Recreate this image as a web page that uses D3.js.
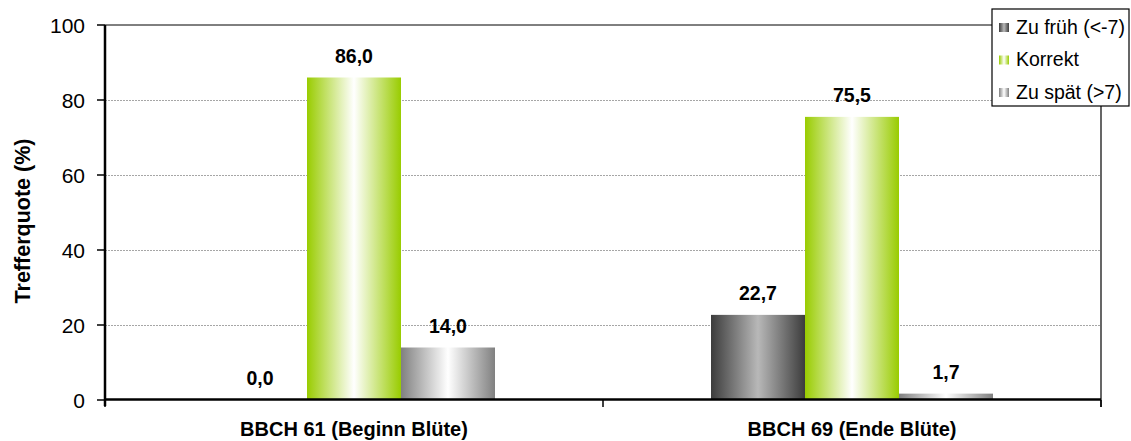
<!DOCTYPE html>
<html>
<head>
<meta charset="utf-8">
<script src="https://cdn.jsdelivr.net/npm/d3@7/dist/d3.min.js"></script>
<style>
  html, body { margin: 0; padding: 0; background: #fff; }
  svg { display: block; font-family: "Liberation Sans", Arial, sans-serif; }
</style>
</head>
<body>
<svg id="chart" width="1131" height="441"></svg>
<script>
// ---- data ----
const categories = ["BBCH 61 (Beginn Blüte)", "BBCH 69 (Ende Blüte)"];
const seriesNames = ["Zu früh (<-7)", "Korrekt", "Zu spät (>7)"];
const zuFrueh = [0.0, 22.7];
const korrekt = [86.0, 75.5];
const zuSpaet = [14.0, 1.7];
const yTicks = [0, 20, 40, 60, 80, 100];
const yTitle = "Trefferquote (%)";

// ---- styles ----
const gradStops = [
  { edge: "#3c3c3c", center: "#b8b8b8" },
  { edge: "#99cc00", center: "#ffffff" },
  { edge: "#808080", center: "#ffffff" }
];

const svg = d3.select("#chart");
const pLeft = 105, pRight = 1101, pTop = 25, pBottom = 400;

const x0 = d3.scaleBand().domain(categories).range([pLeft, pRight]).padding(0);
const x1 = d3.scaleBand().domain(d3.range(seriesNames.length))
  .range([0, x0.bandwidth()]).paddingInner(0).paddingOuter(1.149);
const y = d3.scaleLinear().domain([0, 100]).range([pBottom, pTop]);

const defs = svg.append("defs");
gradStops.forEach((g, i) => {
  const lg = defs.append("linearGradient").attr("id", "g" + i)
    .attr("x1", "0%").attr("x2", "100%").attr("y1", "0%").attr("y2", "0%");
  lg.append("stop").attr("offset", "0%").attr("stop-color", g.edge);
  lg.append("stop").attr("offset", "50%").attr("stop-color", g.center);
  lg.append("stop").attr("offset", "100%").attr("stop-color", g.edge);
});

// gridlines
svg.append("g").selectAll("line").data(yTicks.filter(t => t > 0 && t < 100)).join("line")
  .attr("x1", pLeft).attr("x2", pRight)
  .attr("y1", d => y(d) + 0.5).attr("y2", d => y(d) + 0.5)
  .attr("stroke", "#a6a6a6").attr("stroke-width", 1.2).attr("stroke-dasharray", "2,1");

// plot border (top and right)
svg.append("line").attr("x1", pLeft).attr("x2", pRight).attr("y1", pTop).attr("y2", pTop)
  .attr("stroke", "#000").attr("stroke-width", 1);
svg.append("line").attr("x1", pRight).attr("x2", pRight).attr("y1", pTop).attr("y2", pBottom + 7)
  .attr("stroke", "#000").attr("stroke-width", 1.2);

// bars
const rows = categories.map((c, i) => ({ cat: c, vals: [zuFrueh[i], korrekt[i], zuSpaet[i]] }));
const groups = svg.append("g").selectAll("g").data(rows).join("g")
  .attr("transform", d => `translate(${x0(d.cat)},0)`);
groups.selectAll("rect").data(d => d.vals.map((v, k) => ({ v, k }))).join("rect")
  .attr("x", d => x1(d.k)).attr("width", x1.bandwidth())
  .attr("y", d => y(d.v)).attr("height", d => pBottom - y(d.v))
  .attr("fill", d => `url(#g${d.k})`);
groups.selectAll("text").data(d => d.vals.map((v, k) => ({ v, k }))).join("text")
  .attr("x", d => x1(d.k) + x1.bandwidth() / 2)
  .attr("y", d => y(d.v) - 15)
  .attr("text-anchor", "middle")
  .attr("font-size", 19.5).attr("font-weight", "bold").attr("fill", "#000")
  .text(d => d.v.toFixed(1).replace(".", ","));

// y axis
const yAxis = svg.append("g");
yAxis.append("line").attr("x1", pLeft).attr("x2", pLeft).attr("y1", pTop).attr("y2", pBottom + 6)
  .attr("stroke", "#000").attr("stroke-width", 2.5);
yAxis.selectAll("line.t").data(yTicks).join("line").attr("class", "t")
  .attr("x1", pLeft - 8).attr("x2", pLeft).attr("y1", d => y(d)).attr("y2", d => y(d))
  .attr("stroke", "#000").attr("stroke-width", 1.5);
yAxis.selectAll("text").data(yTicks).join("text")
  .attr("x", 85).attr("y", d => y(d) + 7.5)
  .attr("text-anchor", "end").attr("font-size", 21).attr("fill", "#000")
  .text(d => d);
svg.append("text").attr("transform", "translate(30,221) rotate(-90)")
  .attr("text-anchor", "middle").attr("font-size", 21.5).attr("font-weight", "bold")
  .text(yTitle);

// x axis
svg.append("line").attr("x1", pLeft).attr("x2", pRight).attr("y1", pBottom - 0.5).attr("y2", pBottom - 0.5)
  .attr("stroke", "#000").attr("stroke-width", 2.5);
const xTickPos = categories.map(c => x0(c)).concat([pRight]);
svg.selectAll("line.xt").data(xTickPos).join("line").attr("class", "xt")
  .attr("x1", d => d).attr("x2", d => d).attr("y1", pBottom).attr("y2", pBottom + 7)
  .attr("stroke", "#000").attr("stroke-width", 1.5);
svg.selectAll("text.xl").data(categories).join("text").attr("class", "xl")
  .attr("x", d => x0(d) + x0.bandwidth() / 2).attr("y", 436)
  .attr("text-anchor", "middle").attr("font-size", 20).attr("font-weight", "bold")
  .text(d => d);

// legend
const lg = svg.append("g");
lg.append("rect").attr("x", 992).attr("y", 9).attr("width", 137).attr("height", 97)
  .attr("fill", "#fff").attr("stroke", "#000").attr("stroke-width", 1.2);
const li = lg.selectAll("g").data(seriesNames).join("g")
  .attr("transform", (d, i) => `translate(0,${i * 32.5})`);
li.append("rect").attr("x", 999).attr("y", 23).attr("width", 10).attr("height", 9)
  .attr("fill", (d, i) => `url(#g${i})`);
li.append("text").attr("x", 1016).attr("y", 33.5).attr("font-size", 19.5).text(d => d);
</script>
</body>
</html>
